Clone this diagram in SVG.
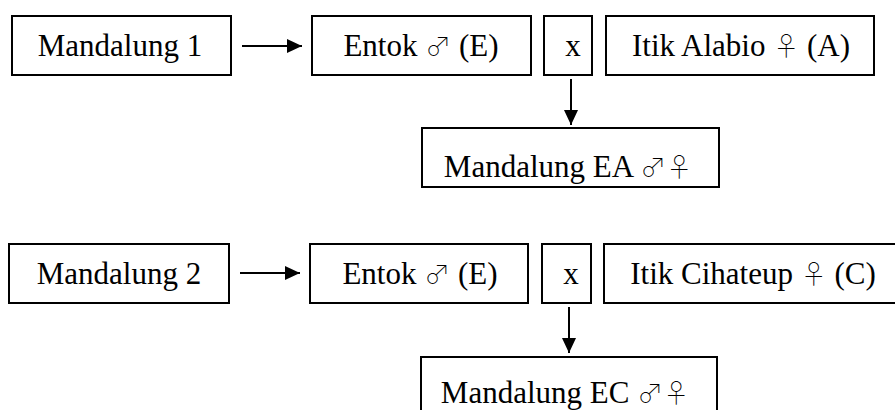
<svg xmlns="http://www.w3.org/2000/svg" width="895" height="410" viewBox="0 0 895 410">
<style>
.box{fill:#fff;stroke:#000;stroke-width:2}
.t{font-family:"Liberation Serif","Times New Roman",serif;font-size:31px;fill:#000;text-anchor:middle}
.s{font-family:"Noto Sans CJK JP","Noto Sans CJK SC","DejaVu Sans",sans-serif;font-weight:100;font-size:26px}
.c{stroke:#000;stroke-width:2;fill:none}
</style>
<defs>
<marker id="ah" markerUnits="userSpaceOnUse" markerWidth="16" markerHeight="16" refX="15" refY="7" orient="auto">
<path d="M0,0 L15,7 L0,14 z" fill="#000"/>
</marker>
</defs>
<rect width="895" height="410" fill="#fff"/>
<g id="m1"><rect class="box" x="12" y="16" width="219" height="59"/><text class="t" x="120" y="56">Mandalung 1</text></g>
<g id="e1"><rect class="box" x="312" y="16" width="219" height="59"/><text class="t" x="421" y="56">Entok <tspan class="s">♂</tspan> (E)</text></g>
<g id="x1"><rect class="box" x="544" y="16" width="48" height="59"/><text class="t" x="573" y="56">x</text></g>
<g id="a1"><rect class="box" x="606" y="16" width="268" height="59"/><text class="t" x="741" y="56">Itik Alabio <tspan class="s">♀</tspan> (A)</text></g>
<g id="ea"><rect class="box" x="422" y="128" width="297" height="59"/><text class="t" x="568" y="177">Mandalung EA <tspan class="s">♂♀</tspan></text></g>
<g id="m2"><rect class="box" x="9" y="244" width="220" height="59"/><text class="t" x="119" y="284">Mandalung 2</text></g>
<g id="e2"><rect class="box" x="310" y="244" width="218" height="59"/><text class="t" x="420" y="284">Entok <tspan class="s">♂</tspan> (E)</text></g>
<g id="x2"><rect class="box" x="542" y="244" width="49" height="59"/><text class="t" x="571" y="284">x</text></g>
<g id="c2"><rect class="box" x="604" y="244" width="300" height="59"/><text class="t" x="753" y="284">Itik Cihateup <tspan class="s">♀</tspan> (C)</text></g>
<g id="ec"><rect class="box" x="421" y="357" width="296" height="70"/><text class="t" x="565" y="403">Mandalung EC <tspan class="s">♂♀</tspan></text></g>
<g id="connectors">
<line class="c" x1="242" y1="46" x2="302" y2="46" marker-end="url(#ah)"/>
<line class="c" x1="571" y1="79" x2="571" y2="125" marker-end="url(#ah)"/>
<line class="c" x1="240" y1="273" x2="300" y2="273" marker-end="url(#ah)"/>
<line class="c" x1="569" y1="307" x2="569" y2="353" marker-end="url(#ah)"/>
</g>
</svg>
